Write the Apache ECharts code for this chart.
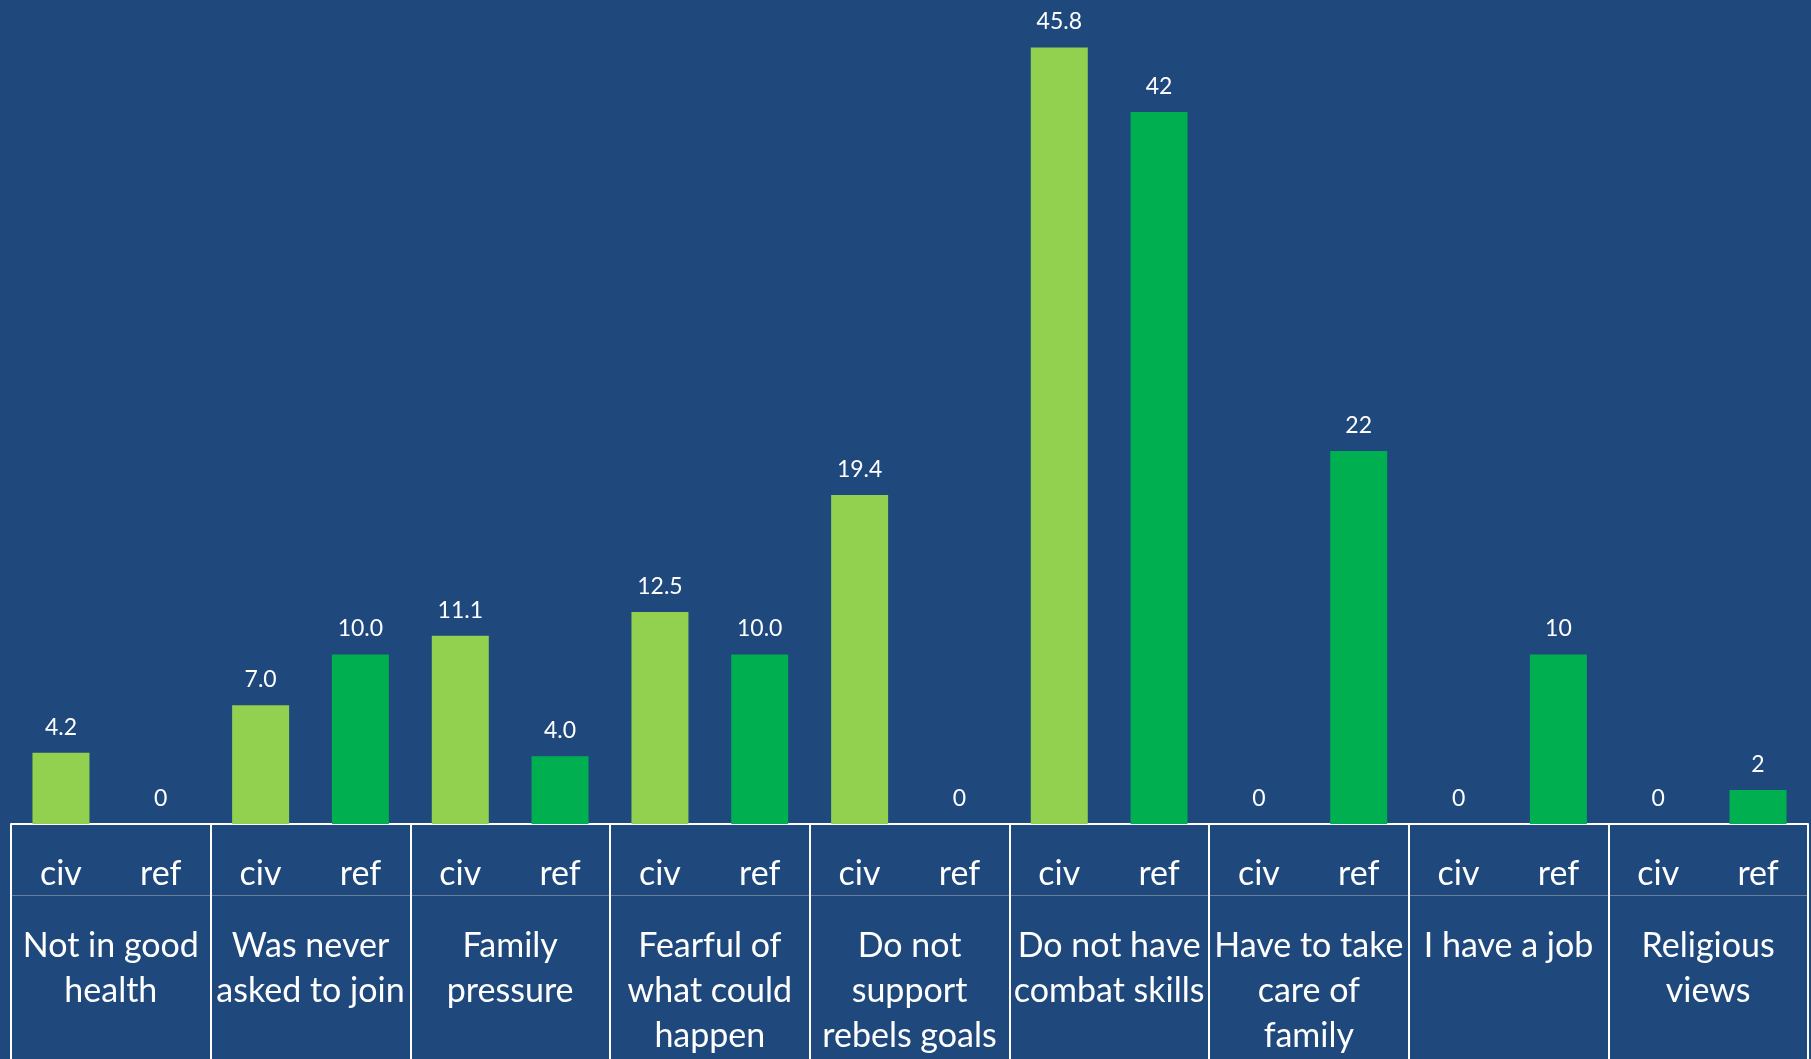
<!DOCTYPE html>
<html>
<head>
<meta charset="utf-8">
<script src="https://cdn.jsdelivr.net/npm/echarts@6/dist/echarts.min.js"></script>
<style>
  html, body { margin: 0; padding: 0; background: #1F497D; }
  #chart { width: 1811px; height: 1059px; }
</style>
</head>
<body>
<div id="chart"></div>
<script>
const categories = [
  'Not in good\nhealth',
  'Was never\nasked to join',
  'Family\npressure',
  'Fearful of\nwhat could\nhappen',
  'Do not\nsupport\nrebels goals',
  'Do not have\ncombat skills',
  'Have to take\ncare of\nfamily',
  'I have a job',
  'Religious\nviews'
];
const groupLabels = ['civ', 'ref'];
const civValues = [4.2, 7.0, 11.1, 12.5, 19.4, 45.8, 0, 0, 0];
const refValues = [0, 10.0, 4.0, 10.0, 0, 42, 22, 10, 2];
const civLabels = ['4.2', '7.0', '11.1', '12.5', '19.4', '45.8', '0', '0', '0'];
const refLabels = ['0', '10.0', '4.0', '10.0', '0', '42', '22', '10', '2'];
const yMax = 48.6;

const subCategories = [];
categories.forEach(() => groupLabels.forEach(g => subCategories.push(g)));

const FONT = 'Lato';
const chart = echarts.init(document.getElementById('chart'));
const valueLabel = (arr) => ({
  show: true,
  position: 'top',
  distance: 14,
  color: '#ffffff',
  fontFamily: FONT,
  fontSize: 23,
  formatter: p => arr[p.dataIndex]
});

chart.setOption({
  backgroundColor: '#1F497D',
  animation: false,
  grid: { left: 11, right: 3, top: 0, bottom: 231, containLabel: false },
  xAxis: [
    {
      type: 'category',
      data: categories,
      position: 'bottom',
      axisLine: { show: true, lineStyle: { color: '#ffffff', width: 2 } },
      axisTick: { show: true, length: 240, interval: 0, lineStyle: { color: '#ffffff', width: 2 } },
      axisLabel: {
        interval: 0,
        margin: 100,
        color: '#ffffff',
        fontFamily: FONT,
        fontSize: 34,
        lineHeight: 45,
        align: 'center',
        verticalAlign: 'top'
      },
      splitLine: { show: false }
    },
    {
      type: 'category',
      data: subCategories,
      position: 'bottom',
      axisLine: { show: false },
      axisTick: { show: false },
      axisLabel: {
        interval: 0,
        margin: 30,
        color: '#ffffff',
        fontFamily: FONT,
        fontSize: 34,
        lineHeight: 40,
        verticalAlign: 'top'
      }
    },
    {
      type: 'category',
      data: categories,
      position: 'bottom',
      offset: 71,
      axisLine: { show: true, lineStyle: { color: 'rgba(190,190,190,0.45)', width: 1 } },
      axisTick: { show: false },
      axisLabel: { show: false }
    }
  ],
  yAxis: {
    type: 'value',
    min: 0,
    max: yMax,
    show: false,
    splitLine: { show: false }
  },
  series: [
    {
      name: 'civ',
      type: 'bar',
      xAxisIndex: 0,
      data: civValues,
      barWidth: 57,
      barGap: '75%',
      itemStyle: { color: '#92D050' },
      label: valueLabel(civLabels)
    },
    {
      name: 'ref',
      type: 'bar',
      xAxisIndex: 0,
      data: refValues,
      barWidth: 57,
      barGap: '75%',
      itemStyle: { color: '#00B050' },
      label: valueLabel(refLabels)
    }
  ]
});
</script>
</body>
</html>
